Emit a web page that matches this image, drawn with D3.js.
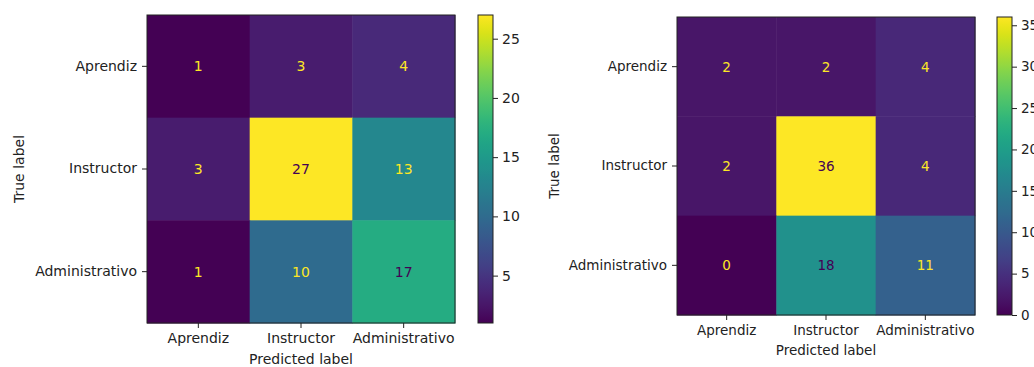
<!DOCTYPE html>
<html>
<head>
<meta charset="utf-8">
<script src="https://cdn.jsdelivr.net/npm/d3@7"></script>
<style>
html,body{margin:0;padding:0;background:#fff;}
text{font-family:"DejaVu Sans",sans-serif;}
</style>
</head>
<body>
<svg id="chart" width="1034" height="367"></svg>
<script>
const categories = ["Aprendiz", "Instructor", "Administrativo"];
const matrixLeft = [[1, 3, 4], [3, 27, 13], [1, 10, 17]];
const matrixRight = [[2, 2, 4], [2, 36, 4], [0, 18, 11]];
const colorbarTicksLeft = [5, 10, 15, 20, 25];
const colorbarTicksRight = [0, 5, 10, 15, 20, 25, 30, 35];
const xAxisTitle = "Predicted label";
const yAxisTitle = "True label";

const svg = d3.select("#chart");
svg.append("rect").attr("width", 1034).attr("height", 367).attr("fill", "#fff");

const panels = [
  {m: matrixLeft, ticks: colorbarTicksLeft, x0: 147, y0: 15, size: 308, cbx: 478, cbw: 15, fs: 14, ylabX: 19, xtickOff: 22, xtitleOff: 41, id: "L"},
  {m: matrixRight, ticks: colorbarTicksRight, x0: 677, y0: 17, size: 298, cbx: 997, cbw: 15, fs: 13.5, ylabX: 554, xtickOff: 21, xtitleOff: 40, id: "R"}
];

const defs = svg.append("defs");

panels.forEach(p => {
  const vals = p.m.flat();
  const vmin = d3.min(vals), vmax = d3.max(vals);
  const color = d3.scaleSequential(d3.interpolateViridis).domain([vmin, vmax]);
  const x = d3.scaleBand().domain(categories).range([p.x0, p.x0 + p.size]);
  const y = d3.scaleBand().domain(categories).range([p.y0, p.y0 + p.size]);
  const g = svg.append("g");
  const cells = [];
  p.m.forEach((row, i) => row.forEach((v, j) => cells.push({r: categories[i], c: categories[j], v})));
  g.selectAll("rect.cell").data(cells).join("rect")
    .attr("x", d => x(d.c)).attr("y", d => y(d.r))
    .attr("width", x.bandwidth() + 0.5).attr("height", y.bandwidth() + 0.5)
    .attr("fill", d => color(d.v));
  const thresh = (vmin + vmax) / 2;
  g.selectAll("text.val").data(cells).join("text")
    .attr("x", d => x(d.c) + x.bandwidth() / 2)
    .attr("y", d => y(d.r) + y.bandwidth() / 2)
    .attr("text-anchor", "middle").attr("dominant-baseline", "central")
    .attr("font-size", p.fs)
    .attr("fill", d => d.v < thresh ? d3.interpolateViridis(1) : d3.interpolateViridis(0))
    .text(d => d.v);
  g.append("rect").attr("x", p.x0).attr("y", p.y0).attr("width", p.size).attr("height", p.size)
    .attr("fill", "none").attr("stroke", "#222").attr("stroke-width", 1);

  // axes
  const xa = g.append("g").attr("transform", `translate(0,${p.y0 + p.size})`)
    .call(d3.axisBottom(x).tickSize(5).tickPadding(5));
  xa.select(".domain").remove();
  xa.selectAll("text").attr("font-size", p.fs).attr("fill", "#222").attr("font-family", "DejaVu Sans");
  xa.selectAll("line").attr("stroke", "#222");
  const ya = g.append("g").attr("transform", `translate(${p.x0},0)`)
    .call(d3.axisLeft(y).tickSize(5).tickPadding(5));
  ya.select(".domain").remove();
  ya.selectAll("text").attr("font-size", p.fs).attr("fill", "#222").attr("font-family", "DejaVu Sans");
  ya.selectAll("line").attr("stroke", "#222");

  g.append("text").attr("x", p.x0 + p.size / 2).attr("y", p.y0 + p.size + p.xtitleOff)
    .attr("text-anchor", "middle").attr("font-size", p.fs).attr("fill", "#222").text(xAxisTitle);
  g.append("text").attr("transform", `translate(${p.ylabX},${p.y0 + p.size / 2}) rotate(-90)`)
    .attr("text-anchor", "middle").attr("dominant-baseline", "central")
    .attr("font-size", p.fs).attr("fill", "#222").text(yAxisTitle);

  // colorbar
  const grad = defs.append("linearGradient").attr("id", "grad" + p.id)
    .attr("x1", 0).attr("y1", 1).attr("x2", 0).attr("y2", 0);
  d3.range(0, 1.0001, 0.02).forEach(t => grad.append("stop").attr("offset", t).attr("stop-color", d3.interpolateViridis(t)));
  const cy = d3.scaleLinear().domain([vmin, vmax]).range([p.y0 + p.size, p.y0]);
  g.append("rect").attr("x", p.cbx).attr("y", p.y0).attr("width", p.cbw).attr("height", p.size)
    .attr("fill", `url(#grad${p.id})`).attr("stroke", "#222").attr("stroke-width", 1);
  const ca = g.append("g").attr("transform", `translate(${p.cbx + p.cbw},0)`)
    .call(d3.axisRight(cy).tickValues(p.ticks).tickSize(5).tickPadding(4).tickFormat(d3.format("d")));
  ca.select(".domain").remove();
  ca.selectAll("text").attr("font-size", p.fs).attr("fill", "#222").attr("font-family", "DejaVu Sans");
  ca.selectAll("line").attr("stroke", "#222");
});
</script>
</body>
</html>
